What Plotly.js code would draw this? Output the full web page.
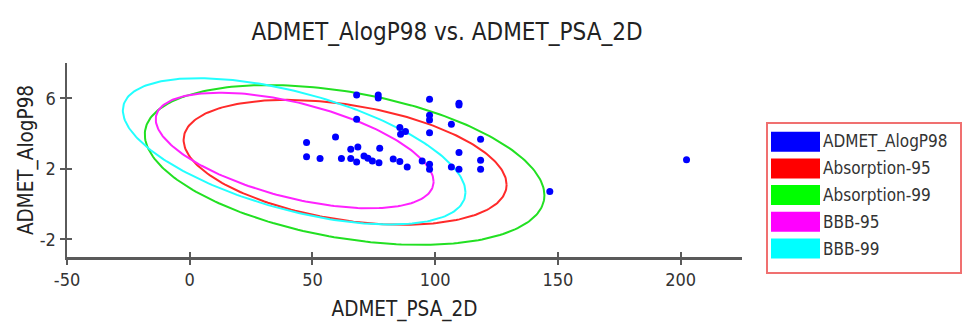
<!DOCTYPE html>
<html>
<head>
<meta charset="utf-8">
<script src="https://cdn.plot.ly/plotly-3.0.1.min.js"></script>
<style>
html,body{margin:0;padding:0;background:#fff;}
#chart{width:963px;height:322px;}
</style>
</head>
<body>
<div id="chart"></div>
<script>
// ---- data ----
const psa2d = [68.0, 76.8, 76.8, 97.7, 109.7, 109.7, 68.0, 97.7, 97.7, 106.6,
  85.6, 87.9, 85.9, 97.7, 118.5, 59.4, 47.6, 47.6, 53.1, 65.6,
  68.5, 77.4, 61.8, 65.6, 68.0, 71.0, 72.6, 74.4, 77.1, 82.9,
  85.6, 88.6, 94.7, 97.7, 97.7, 109.7, 106.6, 109.7, 118.5, 118.5,
  146.7, 202.4];
const alogp98 = [6.19, 6.19, 6.02, 5.94, 5.72, 5.62, 4.81, 5.04, 4.77, 4.53,
  4.34, 4.11, 3.96, 4.05, 3.68, 3.81, 3.49, 2.68, 2.58, 3.11,
  3.24, 3.17, 2.58, 2.58, 2.39, 2.73, 2.60, 2.45, 2.35, 2.55,
  2.41, 2.11, 2.45, 2.26, 1.98, 2.92, 2.11, 1.98, 2.49, 1.98,
  0.71, 2.51];

// confidence ellipses: centre, half extents along x / y, correlation
const ellipseNames = ["Absorption-95", "Absorption-99", "BBB-95", "BBB-99"];
const ellipseColors = ["#ff2a2a", "#22e022", "#ff22ff", "#22ffff"];
const ellipseCx = [63.3, 63.1, 42.75, 42.55];
const ellipseCy = [2.37, 2.22, 3.04, 2.99];
const ellipseHalfX = [65.8, 81.4, 56.6, 69.8];
const ellipseHalfY = [3.54, 4.53, 3.28, 4.15];
const ellipseRho = [-0.36, -0.38, -0.54, -0.56];

const legendNames = ["ADMET_AlogP98", "Absorption-95", "Absorption-99", "BBB-95", "BBB-99"];
const legendColors = ["#0000ff", "#ff0000", "#00ff00", "#ff00ff", "#00ffff"];

const xTicks = [-50, 0, 50, 100, 150, 200];
const yTicks = [-2, 2, 6];

// ---- build ----
const FONT = '"DejaVu Sans Condensed", "Liberation Sans Narrow", "DejaVu Sans", sans-serif';
const W = 963, H = 322;
const M = {l: 67, r: 221, t: 63, b: 65};
const pw = W - M.l - M.r, ph = H - M.t - M.b;
const px = x => (x - M.l) / pw;
const py = y => (H - M.b - y) / ph;

const traces = [];
for (let i = 0; i < ellipseNames.length; i++) {
  const ex = [], ey = [];
  const s = Math.sqrt(1 - ellipseRho[i] * ellipseRho[i]);
  for (let k = 0; k <= 240; k++) {
    const t = 2 * Math.PI * k / 240;
    ex.push(ellipseCx[i] + ellipseHalfX[i] * Math.cos(t));
    ey.push(ellipseCy[i] + ellipseHalfY[i] * (ellipseRho[i] * Math.cos(t) + s * Math.sin(t)));
  }
  traces.push({type: 'scatter', mode: 'lines', x: ex, y: ey, name: ellipseNames[i],
    line: {color: ellipseColors[i], width: 2}, hoverinfo: 'skip', showlegend: false});
}
traces.push({type: 'scatter', mode: 'markers', x: psa2d, y: alogp98, name: 'ADMET_AlogP98',
  marker: {color: '#0000ff', size: 7}, showlegend: false});
// off-range trace so the overlaid tick-only axes are drawn
traces.push({type: 'scatter', mode: 'markers', x: [-1000], y: [-1000], xaxis: 'x2', yaxis: 'y2',
  hoverinfo: 'skip', showlegend: false, marker: {size: 1, opacity: 0}});

const shapes = [], annotations = [];
shapes.push({type: 'rect', xref: 'paper', yref: 'paper', x0: px(767), x1: px(961), y0: py(123), y1: py(273),
  line: {color: '#f07070', width: 2}, fillcolor: '#ffffff', layer: 'below'});
for (let i = 0; i < legendNames.length; i++) {
  const top = 131.7 + i * 26.7;
  shapes.push({type: 'rect', xref: 'paper', yref: 'paper', x0: px(771), x1: px(820), y0: py(top), y1: py(top + 20),
    line: {width: 0}, fillcolor: legendColors[i]});
  annotations.push({xref: 'paper', yref: 'paper', x: px(821), y: py(top + 10), xanchor: 'left', yanchor: 'middle',
    text: legendNames[i], showarrow: false, font: {family: FONT, size: 17, color: '#333'}});
}

const axisCommon = {showgrid: false, zeroline: false, showline: true, linecolor: '#5a5a5a', linewidth: 2.5,
  ticks: 'outside', ticklen: 5, tickwidth: 2, tickcolor: '#5a5a5a',
  tickfont: {family: FONT, size: 18, color: '#333'}, fixedrange: true};
const overlayCommon = {showticklabels: false, ticks: 'inside', ticklen: 5, tickwidth: 2, tickcolor: '#5a5a5a',
  showline: false, showgrid: false, zeroline: false, fixedrange: true};

const layout = {
  width: W, height: H, margin: M, paper_bgcolor: '#fff', plot_bgcolor: '#fff', showlegend: false,
  title: {text: 'ADMET_AlogP98 vs. ADMET_PSA_2D', x: 447 / W, xref: 'container', xanchor: 'center',
    y: 1 - 32 / H, yref: 'container', yanchor: 'middle', font: {family: FONT, size: 24, color: '#222'}},
  xaxis: Object.assign({}, axisCommon, {range: [-50, 225], tickvals: xTicks, ticktext: xTicks.map(String),
    title: {text: 'ADMET_PSA_2D', standoff: 18, font: {family: FONT, size: 20.5, color: '#222'}}}),
  yaxis: Object.assign({}, axisCommon, {range: [-3, 8], tickvals: yTicks, ticktext: yTicks.map(String),
    title: {text: 'ADMET_AlogP98', standoff: 1, font: {family: FONT, size: 20.5, color: '#222'}}}),
  xaxis2: Object.assign({}, overlayCommon, {overlaying: 'x', anchor: 'y2', side: 'bottom', range: [-50, 225], tickvals: xTicks}),
  yaxis2: Object.assign({}, overlayCommon, {overlaying: 'y', anchor: 'x2', side: 'left', range: [-3, 8], tickvals: yTicks}),
  shapes: shapes, annotations: annotations
};

Plotly.newPlot('chart', traces, layout, {staticPlot: true});
</script>
</body>
</html>
